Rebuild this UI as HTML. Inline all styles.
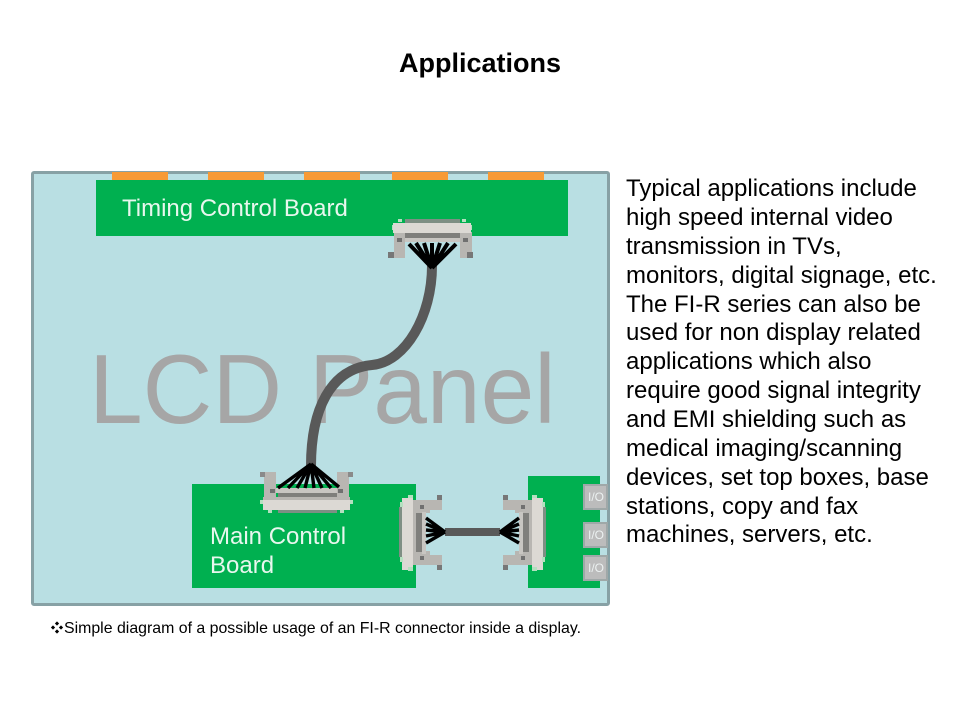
<!DOCTYPE html>
<html lang="en">
<head>
<meta charset="utf-8">
<title>Applications</title>
<style>
html,body{margin:0;padding:0;background:#fff;width:960px;height:720px;overflow:hidden}
svg{display:block}
text{font-family:"Liberation Sans",sans-serif}
</style>
</head>
<body>
<svg width="960" height="720" viewBox="0 0 960 720" xmlns="http://www.w3.org/2000/svg">
<defs>
<g id="hconn">
  <!-- connecting frame and legs -->
  <path d="M503 500H532V565H503V555H515V551H521V513H515V510H503Z" fill="#b8b6b2"/>
  <rect x="503" y="495" width="5" height="5" fill="#777"/>
  <rect x="503" y="565" width="5" height="5" fill="#777"/>
  <rect x="521" y="505" width="4" height="4" fill="#707070"/>
  <rect x="521" y="556" width="4" height="4" fill="#707070"/>
  <rect x="519" y="512" width="4" height="42" fill="#c8c6c2"/>
  <rect x="523" y="513" width="6" height="39" fill="#7f7f7c"/>
  <!-- body -->
  <rect x="532" y="498" width="11" height="72" fill="#dcd9d4"/>
  <rect x="543" y="507" width="3" height="50" fill="#7e8f84"/>
  <rect x="532" y="495" width="5" height="3" fill="#b5e0c0"/>
  <rect x="532" y="567" width="5" height="4" fill="#b5e0c0"/>
  <rect x="542" y="502" width="3" height="5" fill="#b5e0c0"/>
  <rect x="542" y="557" width="3" height="5" fill="#b5e0c0"/>
  <g stroke="#000" stroke-width="3.4" fill="none">
    <path d="M500 532L519 518M500 532L519 524M500 532L519 530M500 532L519 536M500 532L519 543"/>
  </g>
</g>
</defs>

<text x="480" y="72" text-anchor="middle" font-size="27" font-weight="700" fill="#000">Applications</text>

<!-- panel -->
<rect x="32.5" y="172.5" width="576" height="432" rx="1.5" fill="#b9dfe3" stroke="#87a1a5" stroke-width="3"/>

<text transform="translate(89,423) scale(0.985,1)" x="0" y="0" font-size="98" fill="#a6a6a6">LCD Panel</text>

<!-- orange tabs -->
<g fill="#f79a35">
  <rect x="112" y="172" width="56" height="8"/>
  <rect x="208" y="172" width="56" height="8"/>
  <rect x="304" y="172" width="56" height="8"/>
  <rect x="392" y="172" width="56" height="8"/>
  <rect x="488" y="172" width="56" height="8"/>
</g>

<!-- boards -->
<rect x="96" y="180" width="472" height="56" fill="#00b050"/>
<rect x="192" y="484" width="224" height="104" fill="#00b050"/>
<rect x="528" y="476" width="72" height="112" fill="#00b050"/>

<text x="122" y="216" font-size="24" fill="#e8f7ee">Timing Control Board</text>
<text x="210" y="544" font-size="24" fill="#e8f7ee">Main Control</text>
<text x="210" y="573" font-size="24" fill="#e8f7ee">Board</text>

<!-- I/O boxes -->
<g fill="#bcbcbc" stroke="#9fa8a8" stroke-width="2">
  <rect x="584" y="485" width="23" height="24"/>
  <rect x="584" y="523" width="23" height="24"/>
  <rect x="584" y="556" width="23" height="24"/>
</g>
<g font-size="12" fill="#ecf1f1" text-anchor="middle">
  <text x="596" y="501">I/O</text>
  <text x="596" y="539">I/O</text>
  <text x="596" y="572">I/O</text>
</g>

<!-- cable -->
<path d="M432 266C432 315 406 362 372 365C330 369 311 410 311 466" fill="none" stroke="#595959" stroke-width="10"/>
<path d="M445 532H500" stroke="#595959" stroke-width="8" fill="none"/>

<!-- top connector -->
<g>
  <rect x="405" y="219" width="55" height="4" fill="#7e8f84"/>
  <rect x="398" y="219" width="4" height="3" fill="#b5e0c0"/>
  <rect x="462" y="219" width="4" height="3" fill="#b5e0c0"/>
  <rect x="392" y="225" width="3" height="5" fill="#b5e0c0"/>
  <rect x="469" y="225" width="3" height="5" fill="#b5e0c0"/>
  <path d="M394 232H405V258H394Z" fill="#b8b6b2"/>
  <path d="M460 232H472V258H460Z" fill="#b8b6b2"/>
  <rect x="388" y="252" width="6" height="6" fill="#777"/>
  <rect x="467" y="252" width="6" height="6" fill="#777"/>
  <rect x="397" y="238" width="5" height="4" fill="#707070"/>
  <rect x="463" y="238" width="5" height="4" fill="#707070"/>
  <rect x="393" y="223" width="78" height="10" fill="#dcd9d4"/>
  <rect x="405" y="233" width="55" height="5" fill="#7f7f7c"/>
  <rect x="405" y="238" width="55" height="4" fill="#c8c6c2"/>
</g>
<g stroke="#000" stroke-width="4" fill="none">
  <path d="M432 268L409 244M432 268L416 243M432 268L424 243M432 268V243M432 268L440 243M432 268L448 243M432 268L456 244"/>
</g>

<!-- bottom connector -->
<g>
  <path d="M264 472H276V498H264Z" fill="#b8b6b2"/>
  <path d="M337 472H349V498H337Z" fill="#b8b6b2"/>
  <rect x="260" y="472" width="5" height="5" fill="#8a8a8a"/>
  <rect x="348" y="472" width="5" height="5" fill="#8a8a8a"/>
  <rect x="270" y="489" width="5" height="4" fill="#707070"/>
  <rect x="338" y="489" width="5" height="4" fill="#707070"/>
  <rect x="276" y="488" width="61" height="5" fill="#c8c6c2"/>
  <rect x="278" y="493" width="59" height="4" fill="#7f7f7c"/>
  <rect x="263" y="497" width="87" height="3" fill="#b8b6b2"/>
  <rect x="263" y="500" width="87" height="10" fill="#dcd9d4"/>
  <rect x="278" y="510" width="59" height="3" fill="#7e8f84"/>
  <rect x="260" y="500" width="3" height="4" fill="#b5e0c0"/>
  <rect x="350" y="500" width="3" height="4" fill="#b5e0c0"/>
  <rect x="268" y="510" width="4" height="3" fill="#b5e0c0"/>
  <rect x="340" y="510" width="4" height="3" fill="#b5e0c0"/>
</g>
<g stroke="#000" stroke-width="3.4" fill="none">
  <path d="M311 464L278 488M311 464L288 488M311 464L297 488M311 464L305 488M311 464L314 488M311 464L322 488M311 464L331 488M311 464L339 487"/>
</g>

<!-- horizontal connectors -->
<use href="#hconn"/>
<use href="#hconn" transform="translate(945,0) scale(-1,1)"/>

<!-- right paragraph -->
<g font-size="24" fill="#000">
  <text x="626" y="196">Typical applications include</text>
  <text x="626" y="225">high speed internal video</text>
  <text x="626" y="254">transmission in TVs,</text>
  <text x="626" y="283">monitors, digital signage, etc.</text>
  <text x="626" y="312">The FI-R series can also be</text>
  <text x="626" y="340">used for non display related</text>
  <text x="626" y="369">applications which also</text>
  <text x="626" y="398">require good signal integrity</text>
  <text x="626" y="427">and EMI shielding such as</text>
  <text x="626" y="456">medical imaging/scanning</text>
  <text x="626" y="485">devices, set top boxes, base</text>
  <text x="626" y="514">stations, copy and fax</text>
  <text x="626" y="542">machines, servers, etc.</text>
</g>

<!-- caption -->
<g fill="#000">
  <rect x="55.5" y="622" width="3" height="3" transform="rotate(45 57 623.5)"/>
  <rect x="55.5" y="630" width="3" height="3" transform="rotate(45 57 631.5)"/>
  <rect x="51.5" y="626" width="3" height="3" transform="rotate(45 53 627.5)"/>
  <rect x="59.5" y="626" width="3" height="3" transform="rotate(45 61 627.5)"/>
</g>
<text x="64" y="633" font-size="16" fill="#000" textLength="517" lengthAdjust="spacingAndGlyphs">Simple diagram of a possible usage of an FI-R connector inside a display.</text>
</svg>
</body>
</html>
